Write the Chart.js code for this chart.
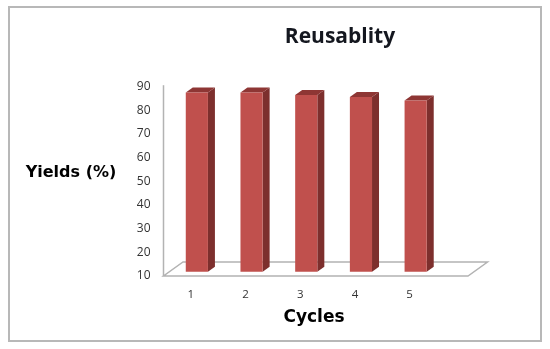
<!DOCTYPE html>
<html>
<head>
<meta charset="utf-8">
<title>Reusablity</title>
<script src="https://cdn.jsdelivr.net/npm/chart.js@4"></script>
<style>
  html, body { margin: 0; padding: 0; background: #fff; }
  #wrap { width: 550px; height: 349px; position: relative; }
</style>
</head>
<body>
<div id="wrap"><canvas id="chartBase" width="550" height="349"></canvas></div>
<script>
const cycles = ["1", "2", "3", "4", "5"];
const yields = [85.7, 85.7, 84.7, 83.8, 82.3];
const yTicks = [10, 20, 30, 40, 50, 60, 70, 80, 90];

const titleText = "Reusablity";
const yTitleText = "Yields (%)";
const xTitleText = "Cycles";

// fake 3d: how far the bars sit from the axis, and the depth of the box
const shiftX = 6;
const shiftY = -4.3;
const depthX = 7;
const depthY = -5;
const floorDepthX = 19.5;
const floorDepthY = -14;
const floorExtra = 31;

const framePlugin = {
  id: "frame",
  beforeDraw(chart) {
    const c = chart.ctx;
    const a = chart.chartArea;
    c.save();
    c.strokeStyle = "#b8b8b8";
    c.lineWidth = 2;
    c.strokeRect(9, 7, 532, 334);

    // floor
    const fr = a.right + floorExtra;
    c.strokeStyle = "#b3b3b3";
    c.lineWidth = 1.5;
    c.beginPath();
    c.moveTo(a.left, a.bottom);
    c.lineTo(fr, a.bottom);
    c.lineTo(fr + floorDepthX, a.bottom + floorDepthY);
    c.lineTo(a.left + floorDepthX, a.bottom + floorDepthY);
    c.closePath();
    c.stroke();

    // y axis line
    c.beginPath();
    c.moveTo(a.left, a.top - 1.5);
    c.lineTo(a.left, a.bottom);
    c.stroke();
    c.restore();
  }
};

const box3dPlugin = {
  id: "box3d",
  beforeDatasetsDraw(chart) {
    const c = chart.ctx;
    c.save();
    chart.getDatasetMeta(0).data.forEach(function (bar) {
      const l = bar.x - bar.width / 2 + shiftX;
      const r = bar.x + bar.width / 2 + shiftX;
      const t = bar.y + shiftY;
      const b = bar.base + shiftY;

      c.fillStyle = "#7d2f2d";
      c.beginPath();
      c.moveTo(r, t);
      c.lineTo(r + depthX, t + depthY);
      c.lineTo(r + depthX, b + depthY);
      c.lineTo(r, b);
      c.closePath();
      c.fill();

      c.fillStyle = "#8e3634";
      c.beginPath();
      c.moveTo(l, t);
      c.lineTo(l + depthX, t + depthY);
      c.lineTo(r + depthX, t + depthY);
      c.lineTo(r, t);
      c.closePath();
      c.fill();
    });
    c.restore();
    c.save();
    c.translate(shiftX, shiftY);
  },
  afterDatasetsDraw(chart) {
    chart.ctx.restore();
  }
};

const textPlugin = {
  id: "labels",
  afterDraw(chart) {
    const c = chart.ctx;
    c.save();
    c.textAlign = "center";
    c.textBaseline = "middle";
    c.fillStyle = "#14171f";
    c.font = "bold 21px 'Open Sans'";
    c.fillText(titleText, 340, 37);
    c.fillStyle = "#000";
    c.font = "bold 16px 'DejaVu Sans'";
    c.fillText(yTitleText, 71, 173);
    c.font = "bold 17px 'DejaVu Sans'";
    c.fillText(xTitleText, 314, 318);
    c.restore();
  }
};

new Chart(document.getElementById("chartBase"), {
  type: "bar",
  data: {
    labels: cycles,
    datasets: [{
      label: "Yields (%)",
      data: yields,
      base: 10,
      backgroundColor: "#c0504d",
      borderWidth: 0,
      categoryPercentage: 1,
      barPercentage: 0.405
    }]
  },
  options: {
    responsive: false,
    animation: false,
    clip: false,
    layout: { padding: { left: 0, right: 113, top: 86.7, bottom: 0 } },
    plugins: {
      legend: { display: false },
      title: { display: false },
      tooltip: { enabled: false }
    },
    scales: {
      x: {
        afterFit(axis) { axis.height = 73; },
        grid: { display: false },
        border: { display: false },
        ticks: { color: "#333", font: { family: "'Open Sans'", size: 11.5 }, padding: 4, maxRotation: 0 }
      },
      y: {
        min: 10,
        max: 90,
        afterBuildTicks(axis) {
          axis.ticks = yTicks.map(function (v) { return { value: v }; });
        },
        afterFit(axis) { axis.width = 163.5; },
        grid: { display: false },
        border: { display: false },
        ticks: { color: "#333", font: { family: "'Open Sans'", size: 12 }, padding: 5 }
      }
    }
  },
  plugins: [framePlugin, box3dPlugin, textPlugin]
});
</script>
</body>
</html>
